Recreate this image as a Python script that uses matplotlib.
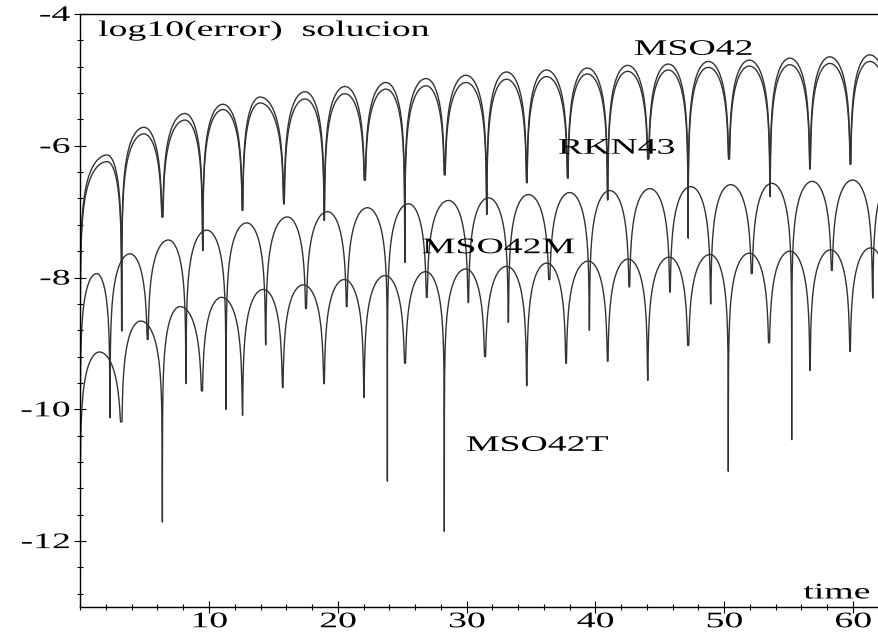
import numpy as np
import matplotlib
matplotlib.use('Agg')
import matplotlib.pyplot as plt
from matplotlib import patheffects
from matplotlib.transforms import Affine2D
from matplotlib.ticker import MultipleLocator

# MSO42 / RKN43: both vanish at the same times, only the amplitude differs
pair_cusp_t = [0.0, 3.22, 6.38, 9.51, 12.6, 15.82, 18.95, 22.1, 25.2, 28.3, 31.56,
               34.67, 37.85, 40.95, 44.1, 47.2, 50.37, 53.56, 56.66, 59.8, 62.95]
pair_cusp_v = [-9.5, -8.81, -7.08, -7.59, -6.98, -6.88, -7.13, -6.52, -7.77, -6.44, -7.04,
               -6.56, -6.49, -6.82, -6.20, -7.40, -6.20, -6.77, -6.35, -6.28, -6.3]
pair_peak_t = [2.1, 4.95, 8.13, 11.08, 13.96, 17.45, 20.56, 23.74, 26.85, 29.95,
               33.1, 36.2, 39.37, 42.5, 45.66, 48.77, 51.95, 55.1, 58.2, 61.3]
mso42_peak_v = [-6.14, -5.72, -5.51, -5.37, -5.26, -5.18, -5.10, -5.04, -4.98, -4.93,
                -4.88, -4.85, -4.82, -4.78, -4.76, -4.72, -4.70, -4.67, -4.65, -4.62]
rkn43_peak_v = [-6.24, -5.82, -5.61, -5.45, -5.35, -5.29, -5.21, -5.14, -5.09, -5.04,
                -4.99, -4.95, -4.91, -4.87, -4.85, -4.81, -4.79, -4.77, -4.75, -4.72]

# MSO42M
m_cusp_t = [0.0, 2.31, 5.24, 8.21, 11.32, 14.4, 17.53, 20.69, 23.85, 26.9, 30.13,
            33.24, 36.42, 39.53, 42.63, 45.79, 48.95, 52.14, 55.24, 58.35, 61.53, 64.6]
m_cusp_v = [-10.0, -10.13, -8.94, -9.61, -10.0, -9.02, -8.47, -8.44, -11.09, -8.30, -8.38,
            -8.68, -8.03, -8.80, -8.14, -8.22, -8.40, -7.94, -10.46, -7.89, -8.31, -8.3]
m_peak_t = [1.28, 3.87, 6.85, 9.82, 12.93, 16.08, 19.2, 22.3, 25.5, 28.6, 31.7,
            34.8, 38.0, 41.13, 44.23, 47.4, 50.5, 53.7, 56.84, 59.97, 63.1]
m_peak_v = [-7.94, -7.64, -7.43, -7.28, -7.17, -7.08, -7.0, -6.94, -6.88, -6.83, -6.79,
            -6.74, -6.71, -6.68, -6.65, -6.62, -6.59, -6.57, -6.54, -6.52, -6.50]

# MSO42T
t_cusp_t = [0.0, 3.22, 6.38, 9.46, 12.6, 15.72, 18.93, 22.03, 25.22, 28.27, 31.43,
            34.67, 37.72, 40.95, 44.06, 47.2, 50.32, 53.48, 56.66, 59.77, 62.9]
t_cusp_v = [-10.8, -10.19, -11.71, -9.72, -10.09, -9.67, -9.61, -9.82, -9.30, -11.85, -9.20,
            -9.64, -9.30, -9.27, -9.56, -9.03, -10.94, -8.99, -9.41, -9.12, -9.2]
t_peak_t = [1.49, 4.7, 7.75, 10.98, 14.22, 17.32, 20.5, 23.67, 26.82, 29.93,
            33.11, 36.22, 39.45, 42.55, 45.74, 48.9, 51.95, 55.1, 58.27, 61.37]
t_peak_v = [-9.13, -8.66, -8.44, -8.30, -8.18, -8.11, -8.03, -7.97, -7.91, -7.87,
            -7.83, -7.78, -7.75, -7.72, -7.69, -7.65, -7.63, -7.60, -7.58, -7.55]

x_ticks = [10, 20, 30, 40, 50, 60]
y_ticks = [-4, -6, -8, -10, -12]
y_tick_labels = ['-4', '-6', '-8', '-10', '-12']


class Stretch(patheffects.AbstractPathEffect):
    """Draw text glyphs widened horizontally around a chosen anchor."""

    def __init__(self, sx, anchor='center'):
        super().__init__()
        self.sx = sx
        self.anchor = anchor

    def draw_path(self, renderer, gc, tpath, affine, rgbFace=None):
        pts = affine.transform(tpath.vertices)
        if len(pts):
            if self.anchor == 'right':
                x0 = pts[:, 0].max()
            elif self.anchor == 'left':
                x0 = pts[:, 0].min()
            else:
                x0 = 0.5 * (pts[:, 0].min() + pts[:, 0].max())
        else:
            x0 = 0.0
        wide = affine + Affine2D().translate(-x0, 0).scale(self.sx, 1).translate(x0, 0)
        renderer.draw_path(gc, tpath, wide, rgbFace)


def arcs(cusp_t, cusp_v, peak_t, peak_v, n=400):
    """log10|error| between successive zeros: one arch per interval."""
    u = np.linspace(0, 1, n)
    s = 0.5 * (1 - np.cos(np.pi * u))
    ts, vs = [], []
    for i in range(len(peak_t)):
        a, b, p = cusp_t[i], cusp_t[i + 1], peak_t[i]
        t = np.where(s < 0.5, a + (p - a) * s / 0.5, p + (b - p) * (s - 0.5) / 0.5)
        with np.errstate(divide='ignore'):
            v = peak_v[i] + np.log10(np.abs(np.sin(np.pi * s)))
        v = np.where(s < 0.5, np.maximum(v, cusp_v[i]), np.maximum(v, cusp_v[i + 1]))
        ts.append(t)
        vs.append(v)
    return np.concatenate(ts), np.concatenate(vs)


plt.rcParams['font.family'] = ['Liberation Serif', 'DejaVu Serif']

fig = plt.figure(figsize=(8.79, 6.35), dpi=100)
ax = fig.add_axes([0.09124, 0.04409, 0.90876, 0.93386])

line_kw = dict(color='#333333', linewidth=1.0)
for peaks in (mso42_peak_v, rkn43_peak_v):
    x, y = arcs(pair_cusp_t, pair_cusp_v, pair_peak_t, peaks)
    ax.plot(x, y, **line_kw)
x, y = arcs(m_cusp_t, m_cusp_v, m_peak_t, m_peak_v)
ax.plot(x, y, **line_kw)
x, y = arcs(t_cusp_t, t_cusp_v, t_peak_t, t_peak_v)
ax.plot(x, y, **line_kw)

ax.set_xlim(0, 62.02)
ax.set_ylim(-13, -4)

ax.spines['right'].set_visible(False)
for side in ('left', 'bottom', 'top'):
    ax.spines[side].set_linewidth(1.0)
    ax.spines[side].set_color('black')

ax.set_xticks(x_ticks)
ax.set_yticks(y_ticks, labels=y_tick_labels)
ax.xaxis.set_minor_locator(MultipleLocator(2))
ax.yaxis.set_minor_locator(MultipleLocator(0.4))
ax.tick_params(which='both', direction='inout', width=0.8, color='black',
               labelsize=16)
ax.tick_params(which='major', length=8)
ax.tick_params(which='minor', length=4)
ax.tick_params(axis='x', pad=0.5)
ax.tick_params(axis='y', pad=3.3)

stretch = 1.7
for lbl in ax.get_xticklabels():
    lbl.set_path_effects([Stretch(stretch)])
for lbl in ax.get_yticklabels():
    lbl.set_path_effects([Stretch(stretch, 'right')])

labels = [
    ('log10(error)  solucion', 14.25, -4.333),
    ('MSO42', 47.6, -4.62),
    ('RKN43', 41.63, -6.12),
    ('MSO42M', 32.46, -7.63),
    ('MSO42T', 35.48, -10.63),
    ('time', 58.73, -12.87),
]
for txt, tx, ty in labels:
    ax.text(tx, ty, txt, fontsize=16, ha='center', va='baseline', color='black',
            path_effects=[Stretch(stretch)])

plt.savefig('out.png', dpi=100)
